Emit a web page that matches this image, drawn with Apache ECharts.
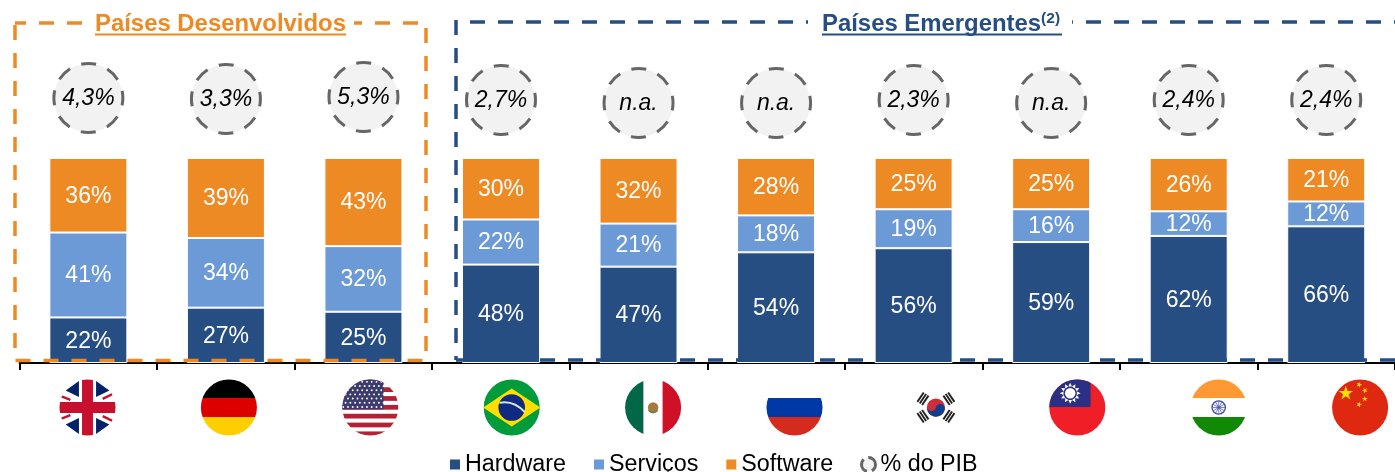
<!DOCTYPE html>
<html>
<head>
<meta charset="utf-8">
<title>Hardware, Serviços e Software</title>
<script src="https://cdn.jsdelivr.net/npm/echarts@6/dist/echarts.min.js"></script>
<style>
html, body { margin: 0; padding: 0; background: #fff; }
#chart { width: 1395px; height: 472px; overflow: hidden; }
</style>
</head>
<body>
<div id="chart"></div>
<script>
// dados
const countries = ['Reino Unido', 'Alemanha', 'EUA', 'Brasil', 'México', 'Rússia', 'Coreia do Sul', 'Taiwan', 'Índia', 'China'];
const hardware = [22, 27, 25, 48, 47, 54, 56, 59, 62, 66];
const servicos = [41, 34, 32, 22, 21, 18, 19, 16, 12, 12];
const software = [36, 39, 43, 30, 32, 28, 25, 25, 26, 21];
const pibLabels = ['4,3%', '3,3%', '5,3%', '2,7%', 'n.a.', 'n.a.', '2,3%', 'n.a.', '2,4%', '2,4%'];

const NAVY = '#264e82';
const LIGHT = '#6c9ad6';
const ORANGE = '#ee8a23';
const FONT = '"Liberation Sans", Arial, sans-serif';

// as barras ocupam sempre a altura toda, mesmo quando o arredondamento soma 99
function share(values, i) {
    return values[i] / (hardware[i] + servicos[i] + software[i]) * 100;
}

// pequenos desvios verticais dos círculos (px), só layout
const bubbleNudge = [-1, 0, -2, 1, 4, 4, 1, 4, 1, 1];

function barSeries(name, values, color) {
    return {
        name: name,
        type: 'bar',
        stack: 'total',
        barWidth: 78,
        data: values.map((v, i) => share(values, i)),
        itemStyle: { color: color, borderColor: '#fff', borderWidth: 1 },
        label: {
            show: true,
            position: 'inside',
            offset: [0, 1],
            color: '#fff',
            fontFamily: FONT,
            fontSize: 23,
            formatter: p => values[p.dataIndex] + '%'
        }
    };
}

// bandeiras em svg
function flag(inner) {
    const svg = '<svg xmlns="http://www.w3.org/2000/svg" width="120" height="120" viewBox="0 0 60 60">' +
        '<defs><clipPath id="c"><circle cx="30" cy="30" r="29.5"/></clipPath></defs>' +
        '<g clip-path="url(#c)">' + inner + '</g></svg>';
    return 'data:image/svg+xml;charset=utf-8,' + encodeURIComponent(svg);
}

function star(cx, cy, r, rot, fill) {
    let pts = [];
    for (let k = 0; k < 10; k++) {
        const rad = k % 2 ? r * 0.38 : r;
        const a = (rot + k * 36 - 90) * Math.PI / 180;
        pts.push((cx + rad * Math.cos(a)).toFixed(2) + ',' + (cy + rad * Math.sin(a)).toFixed(2));
    }
    return '<polygon points="' + pts.join(' ') + '" fill="' + fill + '"/>';
}

function bands(a, b, c) {
    return '<rect width="60" height="20" fill="' + a + '"/><rect y="20" width="60" height="20" fill="' + b + '"/>' +
        '<rect y="40" width="60" height="20" fill="' + c + '"/>';
}

function ukFlag() {
    return '<rect width="60" height="60" fill="#fff"/>' +
        '<polygon points="7,12 21,2 21,19" fill="#012169"/><polygon points="53,12 39,2 39,19" fill="#012169"/>' +
        '<polygon points="7,48 21,58 21,41" fill="#012169"/><polygon points="53,48 39,58 39,41" fill="#012169"/>' +
        '<path d="M2 18L12 22M58 15L46 21M2 42L12 38M58 45L46 39" stroke="#c8102e" stroke-width="2.6"/>' +
        '<path d="M30 0V60M0 30H60" stroke="#c8102e" stroke-width="11.5"/>';
}

function usFlag() {
    let s = '<rect width="60" height="60" fill="#fff"/>';
    for (let i = 0; i < 7; i++) {
        s += '<rect y="' + (-0.6 + i * 9.3) + '" width="60" height="5" fill="#b22234"/>';
    }
    s += '<rect width="44" height="32" fill="#3c3b6e"/>';
    for (let r = 0; r < 7; r++) {
        for (let c = 0; c < 9; c++) {
            s += '<circle cx="' + (1.5 + c * 5 + (r % 2) * 2.5) + '" cy="' + (3 + r * 4.4) + '" r="1" fill="#fff"/>';
        }
    }
    return s;
}

function koreaFlag() {
    let s = '<rect width="60" height="60" fill="#fff"/>';
    [56, 124, 236, 304].forEach(a => {
        s += '<g transform="rotate(' + a + ' 30 30)" fill="#222">' +
            '<rect x="24" y="9.5" width="12" height="2"/><rect x="24" y="12.5" width="12" height="2"/><rect x="24" y="15.5" width="12" height="2"/></g>';
    });
    s += '<circle cx="30" cy="30" r="9.5" fill="#cd2e3a"/>' +
        '<path d="M20.6 28a4.8 4.8 0 0 0 9.4 2a4.8 4.8 0 0 1 9.4 2a9.5 9.5 0 0 1-18.8-4z" fill="#0f3f8c"/>';
    return s;
}

function taiwanFlag() {
    let s = '<rect width="60" height="60" fill="#f01f27"/><rect width="44" height="29.5" fill="#2b3084"/>';
    for (let k = 0; k < 12; k++) {
        s += '<polygon points="20.6,8 24.4,8 22.5,4" transform="rotate(' + (k * 30) + ' 22.5 15)" fill="#fff"/>';
    }
    s += '<circle cx="22.5" cy="15" r="5.5" fill="#fff"/>';
    return s;
}

function indiaFlag() {
    let s = bands('#ff9933', '#fff', '#128807') + '<circle cx="30" cy="30" r="7" fill="none" stroke="#3f4aa8" stroke-width="1.4"/>';
    for (let k = 0; k < 12; k++) {
        s += '<line x1="30" y1="30" x2="30" y2="23.5" stroke="#3f4aa8" stroke-width="0.7" transform="rotate(' + (k * 30) + ' 30 30)"/>';
    }
    return s;
}

const flags = [
    flag(ukFlag()),
    flag(bands('#000', '#dd0000', '#ffce00')),
    flag(usFlag()),
    flag('<rect width="60" height="60" fill="#009b3a"/><polygon points="0,30 30,10 60,30 30,50" fill="#fedf00"/>' +
        '<circle cx="30" cy="30" r="14" fill="#0f2a80"/><path d="M17 25Q32 22 44 35" stroke="#cfe8d8" stroke-width="2" fill="none"/>'),
    flag('<rect width="20" height="60" fill="#006847"/><rect x="20" width="20" height="60" fill="#fff"/><rect x="40" width="20" height="60" fill="#ce1126"/>' +
        '<circle cx="30" cy="30" r="5.5" fill="#a5793f"/><path d="M25 33Q30 38 35 33" stroke="#4f8a50" stroke-width="1.4" fill="none"/>'),
    flag(bands('#fff', '#0039a6', '#d52b1e')),
    flag(koreaFlag()),
    flag(taiwanFlag()),
    flag(indiaFlag()),
    flag('<rect width="60" height="60" fill="#de2910"/>' + star(15, 15, 8, 0, '#ffde00') + star(29, 6, 3.2, 20, '#ffde00') +
        star(35, 12, 3.2, 45, '#ffde00') + star(35, 21, 3.2, 0, '#ffde00') + star(29, 27, 3.2, 20, '#ffde00'))
];

function flagGraphics() {
    return flags.map((src, i) => ({
        type: 'image',
        z: 20,
        x: 59 + i * 141.4,
        y: 379,
        style: { image: src, width: 57, height: 57 }
    }));
}

// moldura tracejada e título de cada grupo
function dashedLine(points, color, dashOffset) {
    return {
        type: 'polyline',
        z: 15,
        shape: { points: points },
        style: { stroke: color, lineWidth: 3.5, fill: null, lineDash: [15, 13], lineDashOffset: dashOffset }
    };
}

function groupTitle(x, text, color, underlineEnd, padLeft, padRight) {
    return [
        {
            type: 'text',
            z: 16,
            x: x,
            y: 24,
            style: {
                text: text,
                fontFamily: FONT,
                verticalAlign: 'middle',
                backgroundColor: '#fff',
                padding: [0, padRight, 0, padLeft],
                rich: {
                    t: { fontFamily: FONT, fontSize: 23.9, fontWeight: 'bold', fill: color, lineHeight: 26 },
                    s: { fontFamily: FONT, fontSize: 15.5, fontWeight: 'bold', fill: color, lineHeight: 26, verticalAlign: 'top' }
                }
            }
        },
        {
            type: 'line',
            z: 17,
            shape: { x1: x + padLeft, y1: 34.5, x2: underlineEnd, y2: 34.5 },
            style: { stroke: color, lineWidth: 2 }
        }
    ];
}

const chart = echarts.init(document.getElementById('chart'));
const option = {
    animation: false,
    grid: { left: 19.6, top: 22, width: 1378, height: 341 },
    xAxis: {
        type: 'category',
        data: countries,
        axisLine: { lineStyle: { color: '#000', width: 2 } },
        axisTick: { show: true, length: 7, lineStyle: { color: '#000', width: 2 } },
        axisLabel: { show: false }
    },
    yAxis: { type: 'value', min: 0, max: 166.34, show: false },
    legend: [
        {
            left: 450,
            top: 453,
            padding: 0,
            icon: 'rect',
            itemWidth: 10,
            itemHeight: 10,
            itemGap: 28,
            itemStyle: { borderWidth: 0 },
            data: ['Hardware', 'Serviços', 'Software'],
            textStyle: { fontFamily: FONT, fontSize: 23.3, color: '#000' }
        },
        {
            left: 860,
            top: 453,
            padding: 0,
            icon: 'circle',
            itemWidth: 14,
            itemHeight: 14,
            data: [{
                name: '% do PIB',
                itemStyle: { color: '#f2f2f2', borderColor: '#666', borderWidth: 3, borderType: [15, 5], opacity: 1 }
            }],
            textStyle: { fontFamily: FONT, fontSize: 23.3, color: '#000' }
        }
    ],
    series: [
        barSeries('Hardware', hardware, NAVY),
        barSeries('Serviços', servicos, LIGHT),
        barSeries('Software', software, ORANGE),
        {
            name: '% do PIB',
            type: 'scatter',
            symbol: 'circle',
            symbolSize: 69,
            data: pibLabels.map((t, i) => ({
                value: [countries[i], 128.8],
                name: t,
                symbolOffset: [0, bubbleNudge[i]]
            })),
            itemStyle: { color: '#f2f2f2', borderColor: '#666', borderWidth: 3, borderType: [15, 12.1], borderDashOffset: 7.5, opacity: 1 },
            label: {
                show: true,
                position: 'inside',
                offset: [0, 1],
                color: '#000',
                fontFamily: FONT,
                fontStyle: 'italic',
                fontSize: 23,
                formatter: p => p.name
            }
        }
    ],
    graphic: [
        dashedLine([[15, 23], [426, 23], [426, 360.5], [15, 360.5], [15, 23]], ORANGE, 4),
        dashedLine([[456, 22], [1420, 22]], NAVY, 14),
        dashedLine([[456, 20], [456, 360]], NAVY, 0),
        dashedLine([[456, 360], [1420, 360]], NAVY, 0),
        ...groupTitle(87, '{t|Países Desenvolvidos}', ORANGE, 346, 8, 8),
        ...groupTitle(808, '{t|Países Emergentes}{s|(2)}', NAVY, 1062, 14, 12),
        ...flagGraphics()
    ]
};
chart.setOption(option);
</script>
</body>
</html>
